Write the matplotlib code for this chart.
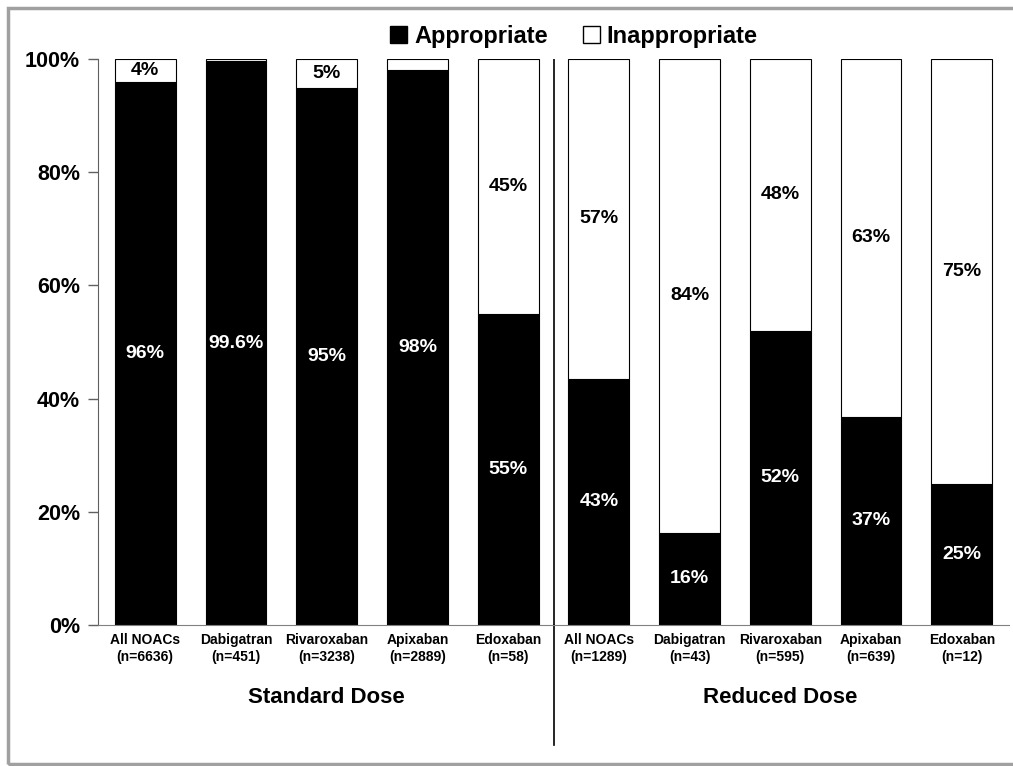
import matplotlib.pyplot as plt
from matplotlib.patches import Rectangle, Patch

plt.rcParams['font.family'] = ['Liberation Sans', 'DejaVu Sans']
plt.rcParams['font.weight'] = 'bold'

drugs = ["All NOACs", "Dabigatran", "Rivaroxaban", "Apixaban", "Edoxaban",
         "All NOACs", "Dabigatran", "Rivaroxaban", "Apixaban", "Edoxaban"]
counts = [6636, 451, 3238, 2889, 58, 1289, 43, 595, 639, 12]
appropriate = [96, 99.6, 94.9, 98, 55, 43.5, 16.3, 52, 36.8, 25]
inappropriate = [100 - a for a in appropriate]
appr_labels = ["96%", "99.6%", "95%", "98%", "55%", "43%", "16%", "52%", "37%", "25%"]
inappr_labels = ["4%", "", "5%", "", "45%", "57%", "84%", "48%", "63%", "75%"]
groups = ["Standard Dose", "Reduced Dose"]

fig = plt.figure(figsize=(10.13, 7.66), dpi=100)
ax = fig.add_axes([98 / 1013, 1 - 625 / 766, 911 / 1013, 566 / 766])

x = list(range(len(drugs)))
ax.bar(x, appropriate, width=0.67, color="black", edgecolor="black", linewidth=0.8)
ax.bar(x, inappropriate, width=0.67, bottom=appropriate, color="white",
       edgecolor="black", linewidth=0.8)

for i in x:
    ax.text(i, appropriate[i] / 2, appr_labels[i], color="white", ha="center",
            va="center", fontsize=14, fontweight="bold")
    if inappr_labels[i]:
        ax.text(i, appropriate[i] + inappropriate[i] / 2, inappr_labels[i], color="black",
                ha="center", va="center", fontsize=14, fontweight="bold")

ax.set_xlim(-0.52, 9.52)
ax.set_ylim(0, 100)
ax.set_yticks([0, 20, 40, 60, 80, 100])
ax.set_yticklabels(["0%", "20%", "40%", "60%", "80%", "100%"], fontsize=15.5, fontweight="bold")
ax.set_xticks(x)
ax.set_xticklabels([f"{d}\n(n={n})" for d, n in zip(drugs, counts)], fontsize=10,
                   fontweight="bold", linespacing=1.2)
ax.tick_params(axis="x", length=0, pad=6)
ax.tick_params(axis="y", length=7, width=1, pad=6, direction="out", color="#606060")
ax.spines["top"].set_visible(False)
ax.spines["right"].set_visible(False)
ax.spines["left"].set_color("#606060")
ax.spines["bottom"].set_color("#808080")

# divider between the two dose groups
ax.plot([4.5, 4.5], [0, 100], color="black", lw=1.2)
ax.plot([4.5, 4.5], [0, -21.2], color="black", lw=1.2, clip_on=False)

ax.text(2, -12.8, groups[0], ha="center", va="center", fontsize=16, fontweight="bold")
ax.text(7, -12.8, groups[1], ha="center", va="center", fontsize=16, fontweight="bold")

handles = [Patch(facecolor="black", edgecolor="black"),
           Patch(facecolor="white", edgecolor="black")]
fig.legend(handles, ["Appropriate", "Inappropriate"], loc="center",
           bbox_to_anchor=(574 / 1013, 1 - 36 / 766), ncol=2, frameon=False,
           handlelength=0.7, handleheight=0.7, handletextpad=0.3,
           columnspacing=1.5, prop={"weight": "bold", "size": 17})

fig.patches.append(Rectangle((8 / 1013, 2 / 766), 1.2, 756 / 766, transform=fig.transFigure,
                             fill=False, edgecolor="#a0a0a0", linewidth=2.5))

fig.savefig("out.png", dpi=100)
